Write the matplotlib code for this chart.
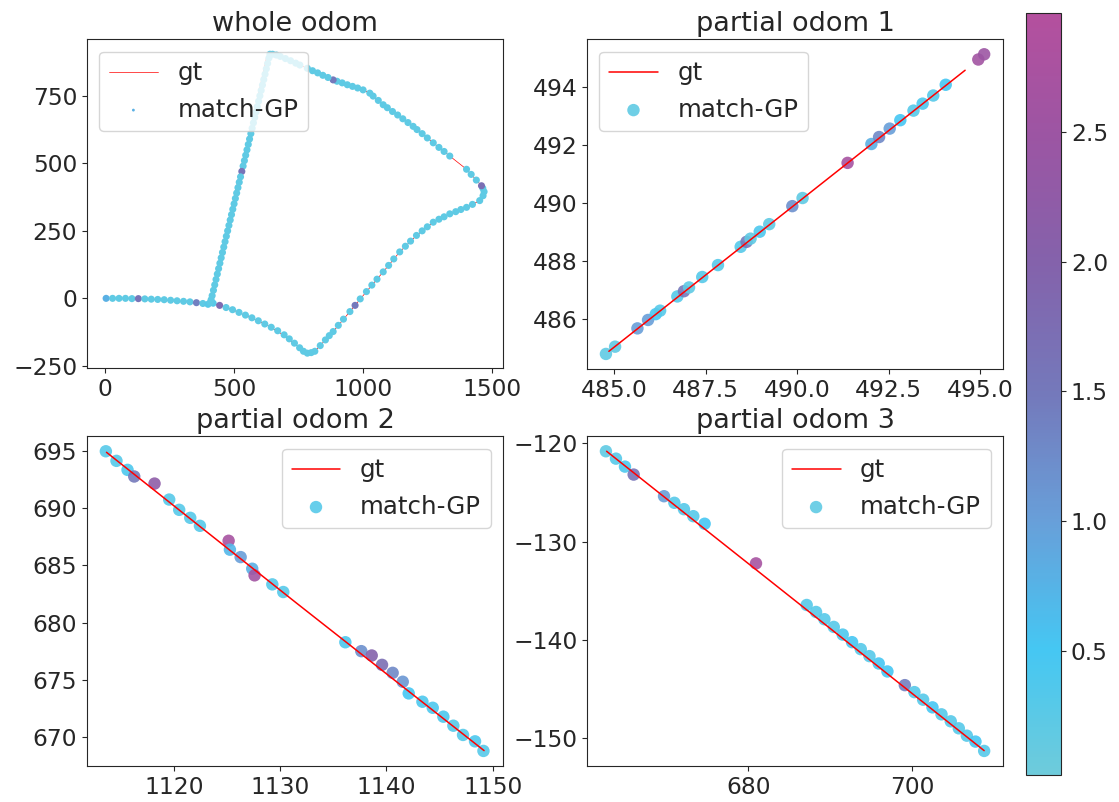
import matplotlib
matplotlib.use('Agg')
import matplotlib.pyplot as plt
import numpy as np
import seaborn as sns
from matplotlib.colors import LinearSegmentedColormap, Normalize
from matplotlib.cm import ScalarMappable

gt_whole_x = [4, 123, 239, 355, 388, 420, 497, 627, 691, 756, 782, 814, 885, 950,
              1014, 1079, 1143, 1208, 1273, 1337, 1402, 1453, 1470, 1460, 1402,
              1337, 1273, 1195, 1079, 1027, 1001, 885, 756, 665, 640, 627, 562,
              523, 472, 433, 413, 407]
gt_whole_y = [0, -1, -7, -16, -22, -18, -43, -98, -135, -184, -202, -196, -123,
              -49, 25, 98, 172, 233, 282, 313, 337, 362, 395, 417, 478, 527, 576,
              637, 717, 760, 772, 809, 864, 901, 904, 895, 613, 466, 245, 86, 0, -18]

# match-GP estimates of the whole run, one list per stretch of the loop
start_x = [5, 30, 55, 80, 105, 130, 155, 180, 205, 230, 255, 280, 305, 330, 355, 380, 400]
start_y = [0, 0, 0, 0, -1, -1, -2, -3, -4, -5, -7, -9, -11, -13, -16, -19, -22]
start_err = [0.8, 0.2, 0.2, 0.2, 0.2, 1.6, 0.2, 0.2, 0.2, 0.2, 0.2, 0.2, 0.2, 0.2, 1.4, 0.2, 0.3]

south_x = [420, 445, 470, 495, 520, 545, 570, 595, 620, 645, 670, 695, 715, 735, 755, 770, 785]
south_y = [-18, -26, -34, -42, -52, -62, -72, -83, -95, -107, -120, -135, -150, -166, -183, -196, -203]
south_err = [0.3, 1.8, 0.2, 0.2, 0.2, 0.2, 0.2, 0.2, 0.2, 0.2, 0.2, 0.2, 0.2, 0.2, 0.2, 0.2, 0.2]

east_x = [800, 814, 835, 855, 870, 885, 905, 925, 950, 970, 990, 1014, 1035, 1055, 1079,
          1100, 1120, 1143, 1165, 1185, 1208, 1230, 1250, 1273, 1295, 1315, 1337, 1360, 1380, 1402,
          1425, 1453, 1466, 1470]
east_y = [-201, -196, -175, -154, -138, -123, -100, -77, -49, -26, -2, 25, 49, 71, 98,
          122, 146, 172, 193, 212, 233, 250, 265, 282, 293, 302, 313, 321, 329, 337,
          348, 362, 380, 395]
east_err = [0.2, 0.2, 0.2, 0.2, 0.2, 0.2, 0.2, 0.2, 0.2, 1.5, 0.2, 0.2, 0.2, 0.2, 0.2,
            0.2, 0.2, 0.2, 0.2, 0.2, 0.2, 0.2, 0.2, 0.2, 0.2, 0.2, 0.2, 0.2, 0.2, 0.2,
            0.2, 0.2, 0.2, 0.2]

north_x = [1465, 1460, 1440, 1420, 1402, 1337, 1315, 1295, 1273, 1250,
           1230, 1210, 1195, 1175, 1155, 1135, 1115, 1095, 1079, 1060,
           1040, 1027, 1001, 980, 960, 940, 920, 900, 885, 865,
           845, 825, 805, 785, 756, 740, 720, 700, 680, 665, 650]
north_y = [408, 417, 438, 459, 478, 527, 544, 559, 576, 594,
           610, 625, 637, 651, 665, 679, 692, 706, 717, 733,
           749, 760, 772, 779, 785, 791, 798, 804, 809, 818,
           826, 835, 843, 852, 864, 871, 880, 888, 896, 901, 904]
north_err = [0.2, 1.7, 0.2, 0.2, 0.2, 0.2, 0.2, 0.2, 0.2, 0.2,
             0.2, 0.2, 0.2, 0.2, 0.2, 0.2, 0.2, 0.2, 0.2, 0.2,
             0.2, 0.2, 0.2, 0.2, 0.2, 0.2, 0.2, 0.2, 1.5, 0.2,
             0.2, 0.2, 0.2, 0.2, 0.2, 0.2, 0.2, 0.2, 0.2, 0.2, 0.2]

west_x = [640, 636, 631, 626, 621, 616, 611, 606, 601, 596, 591, 586, 581, 576, 571, 566,
          561, 556, 551, 546, 541, 536, 531, 526, 521, 516, 511, 506, 501, 496, 491, 486,
          481, 476, 471, 466, 461, 456, 451, 446, 441, 436, 431, 426, 421, 416, 412, 409]
west_y = [904, 890, 870, 850, 830, 810, 790, 770, 750, 730, 710, 690, 670, 650, 630, 610,
          590, 570, 550, 530, 510, 490, 470, 450, 430, 410, 390, 370, 350, 330, 310, 290,
          270, 250, 230, 210, 190, 170, 150, 130, 110, 90, 70, 50, 30, 10, -5, -15]
west_err = [0.2, 0.2, 0.2, 0.2, 0.2, 0.2, 0.2, 0.2, 0.2, 0.2, 0.2, 0.2, 0.2, 0.2, 0.2, 0.2,
            0.2, 0.2, 0.2, 0.2, 0.2, 0.2, 1.6, 0.2, 0.2, 0.2, 0.2, 0.2, 0.2, 0.2, 0.2, 0.2,
            0.2, 0.2, 0.2, 0.2, 0.2, 0.2, 0.2, 0.2, 0.2, 0.2, 0.2, 0.2, 0.2, 0.2, 0.2, 0.2]

# partial odom 1
gt1_x = [484.86, 489.70, 494.59]
gt1_y = [484.89, 489.70, 494.57]
p1_x = [484.78, 485.03, 485.64, 485.93, 486.14, 486.26, 486.73, 486.91, 487.05, 487.41,
        487.84, 488.46, 488.62, 488.73, 488.98, 489.24, 489.87, 490.15, 491.38, 492.03,
        492.24, 492.53, 492.82, 493.18, 493.43, 493.72, 494.06, 494.95, 495.11]
p1_y = [484.80, 485.05, 485.68, 485.97, 486.17, 486.29, 486.78, 486.96, 487.09, 487.45,
        487.86, 488.49, 488.66, 488.77, 489.01, 489.27, 489.89, 490.17, 491.38, 492.03,
        492.27, 492.56, 492.85, 493.18, 493.42, 493.70, 494.07, 494.94, 495.12]
p1_err = [0.2, 0.2, 1.0, 1.0, 0.5, 0.3, 0.3, 1.5, 0.2, 0.3,
          0.3, 0.3, 1.5, 0.2, 0.4, 0.2, 1.2, 0.2, 2.7, 0.8,
          1.3, 1.0, 0.5, 0.3, 0.4, 0.3, 0.5, 2.6, 2.5]

# partial odom 2
gt2_x = [1113.66, 1131.40, 1149.18]
gt2_y = [694.91, 681.80, 668.78]
p2_x = [1113.60, 1114.60, 1115.64, 1116.27, 1118.18, 1119.56, 1120.50, 1121.54, 1122.45, 1125.15,
        1125.27, 1126.28, 1127.37, 1127.59, 1129.26, 1130.29, 1136.13, 1137.63, 1138.61, 1139.58,
        1140.58, 1141.53, 1142.09, 1143.38, 1144.35, 1145.35, 1146.29, 1147.20, 1148.33, 1149.12]
p2_y = [695.00, 694.16, 693.37, 692.79, 692.17, 690.77, 689.87, 689.17, 688.47, 687.16,
        686.38, 685.73, 684.71, 684.13, 683.34, 682.67, 678.27, 677.49, 677.11, 676.29,
        675.59, 674.81, 673.79, 673.06, 672.53, 671.75, 670.96, 670.15, 669.59, 668.75]
p2_err = [0.3, 0.3, 0.4, 1.5, 2.2, 0.3, 0.3, 0.3, 0.3, 2.7,
          0.7, 1.0, 0.8, 2.6, 0.3, 0.3, 0.4, 1.2, 2.0, 1.7,
          1.3, 1.1, 0.5, 0.4, 0.4, 0.4, 0.3, 0.3, 0.4, 0.3]

# partial odom 3
gt3_x = [662.72, 685.70, 708.74]
gt3_y = [-120.81, -136.00, -151.25]
p3_x = [662.64, 663.86, 664.96, 666.02, 669.72, 670.98, 672.15, 673.29, 674.67, 680.93,
        687.11, 688.25, 689.27, 690.41, 691.50, 692.64, 693.70, 694.76, 695.89, 696.95,
        699.07, 700.24, 701.30, 702.44, 703.54, 704.67, 705.65, 706.63, 707.68, 708.74]
p3_y = [-120.81, -121.56, -122.37, -123.18, -125.38, -126.05, -126.70, -127.41, -128.18, -132.21,
        -136.44, -137.15, -137.89, -138.67, -139.45, -140.22, -140.93, -141.64, -142.39, -143.20,
        -144.59, -145.30, -146.07, -146.85, -147.56, -148.27, -148.98, -149.73, -150.33, -151.28]
p3_err = [0.2, 0.3, 0.4, 1.6, 1.0, 0.3, 0.3, 0.3, 0.5, 2.7,
          0.3, 0.3, 0.3, 0.3, 0.4, 0.5, 0.3, 0.3, 0.5, 0.5,
          1.4, 0.3, 0.3, 0.5, 0.3, 0.3, 0.3, 0.3, 0.5, 0.3]

err_min, err_max = 0.02, 2.96

whole_x = start_x + south_x + east_x + north_x + west_x
whole_y = start_y + south_y + east_y + north_y + west_y
whole_err = start_err + south_err + east_err + north_err + west_err

sns.set_style('ticks')
plt.rcParams['font.family'] = ['DejaVu Sans']
plt.rcParams['text.color'] = '#262626'
plt.rcParams['xtick.color'] = '#262626'
plt.rcParams['ytick.color'] = '#262626'

cmap = LinearSegmentedColormap.from_list('gp', [
    (0.0, '#6ecbdb'), (0.163, '#45c7f3'), (0.333, '#689fd9'), (0.5, '#7479bb'),
    (0.673, '#8462ab'), (0.84, '#9c55a3'), (1.0, '#b4509e')])
norm = Normalize(vmin=err_min, vmax=err_max)

fig = plt.figure(figsize=(11.19, 8.02), dpi=100)
ax1 = fig.add_axes([0.0777, 0.541, 0.3718, 0.410])
ax2 = fig.add_axes([0.5246, 0.540, 0.3718, 0.411])
ax3 = fig.add_axes([0.0777, 0.045, 0.3718, 0.411])
ax4 = fig.add_axes([0.5246, 0.045, 0.3718, 0.411])
cax = fig.add_axes([0.9169, 0.0337, 0.0313, 0.950])

tick_fs = 16.8
title_fs = 19.5
legend_fs = 17.6

ax1.plot(gt_whole_x, gt_whole_y, color='red', lw=0.5, label='gt', zorder=2)
ax1.scatter(whole_x, whole_y, c=whole_err, cmap=cmap, norm=norm, s=26, lw=0,
            label='match-GP', zorder=3)
ax1.set_title('whole odom', fontsize=title_fs)
ax1.legend(loc='upper left', fontsize=legend_fs, markerscale=0.4)
ax1.set_xticks([0, 500, 1000, 1500])
ax1.set_yticks([-250, 0, 250, 500, 750])

parts = [(ax2, gt1_x, gt1_y, p1_x, p1_y, p1_err, 'partial odom 1', 'upper left'),
         (ax3, gt2_x, gt2_y, p2_x, p2_y, p2_err, 'partial odom 2', 'upper right'),
         (ax4, gt3_x, gt3_y, p3_x, p3_y, p3_err, 'partial odom 3', 'upper right')]
for ax, gx, gy, px, py, pe, title, loc in parts:
    ax.plot(gx, gy, color='red', lw=1.1, label='gt', zorder=3)
    ax.scatter(px, py, c=pe, cmap=cmap, norm=norm, s=80, lw=0, alpha=0.9, label='match-GP')
    ax.set_title(title, fontsize=title_fs)
    ax.legend(loc=loc, fontsize=legend_fs)

ax2.set_xticks([485.0, 487.5, 490.0, 492.5, 495.0])
ax2.set_yticks([486, 488, 490, 492, 494])
ax3.set_xticks([1120, 1130, 1140, 1150])
ax3.set_yticks([670, 675, 680, 685, 690, 695])
ax4.set_xticks([680, 700])
ax4.set_yticks([-150, -140, -130, -120])

for ax in (ax1, ax2, ax3, ax4):
    ax.tick_params(labelsize=tick_fs)

sm = ScalarMappable(norm=norm, cmap=cmap)
cb = fig.colorbar(sm, cax=cax)
cb.set_ticks([0.5, 1.0, 1.5, 2.0, 2.5])
cb.ax.tick_params(labelsize=tick_fs)
cb.outline.set_edgecolor('#262626')

fig.savefig('out.png', dpi=100)
